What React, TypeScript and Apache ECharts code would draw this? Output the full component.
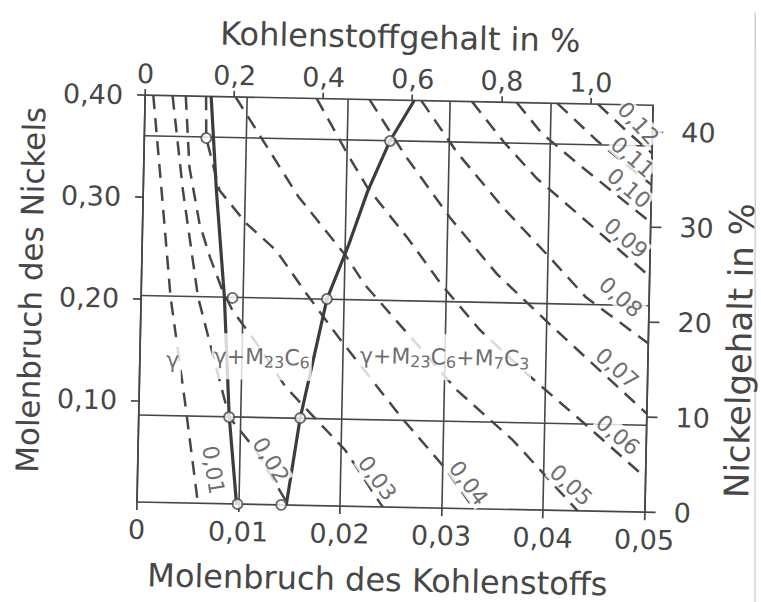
import { useEffect, useRef } from "react";
import * as echarts from "echarts";

const INK = "#474747";
const FONT = "DejaVu Sans";

// Bottom axis: mole fraction of carbon
const carbonMoleTicks = [0, 0.01, 0.02, 0.03, 0.04, 0.05];
const carbonMoleLabels = ["0", "0,01", "0,02", "0,03", "0,04", "0,05"];
// Top axis: carbon content in mass-%
const carbonMassTicks = [0, 0.2, 0.4, 0.6, 0.8, 1.0];
const carbonMassLabels = ["0", "0,2", "0,4", "0,6", "0,8", "1,0"];
const carbonMassMax = 1.14; // mass-% at x = 0,05
// Left axis: mole fraction of nickel
const nickelMoleTicks = [0.1, 0.2, 0.3, 0.4];
const nickelMoleLabels = ["0,10", "0,20", "0,30", "0,40"];
// Right axis: nickel content in mass-%
const nickelMassTicks = [0, 10, 20, 30, 40];
const nickelMassLabels = ["0", "10", "20", "30", "40"];
const nickelMassMax = 42.8; // mass-% at y = 0,40

// Phase boundaries (solid)
const boundaryGamma = [
  [0.0065, 0.4], [0.0072, 0.308], [0.0082, 0.203], [0.0089, 0.087], [0.0098, 0],
];
const boundaryM7C3 = [
  [0.0147, 0], [0.0159, 0.0857], [0.0183, 0.203], [0.0203, 0.256],
  [0.0221, 0.31], [0.0242, 0.36], [0.0265, 0.4],
];
// Measured points on the boundaries
const pointsGamma = [[0.0061, 0.359], [0.009, 0.2024], [0.0089, 0.0853], [0.0099, 0]];
const pointsM7C3 = [[0.0142, 0], [0.0159, 0.0857], [0.0183, 0.2032], [0.0242, 0.3597]];
// Alloy series (horizontal lines)
const alloyLevels = [0.36, 0.203, 0.0855];

// Lines of constant carbon activity (dashed)
const act001 = [[0.0008, 0.4], [0.0018, 0.307], [0.0029, 0.202], [0.0045, 0.101], [0.006, 0]];
const act002 = [[0.0027, 0.4], [0.0039, 0.3075], [0.0056, 0.2026], [0.0089, 0.0853], [0.0116, 0.0534], [0.0149, 0]];
const act003 = [
  [0.004, 0.4], [0.0045, 0.33], [0.0056, 0.275], [0.0067, 0.242], [0.0079, 0.212],
  [0.009, 0.1905], [0.0117, 0.155], [0.0144, 0.116], [0.0204, 0.055], [0.0242, 0],
];
const act004 = [
  [0.006, 0.4], [0.0061, 0.359], [0.0075, 0.308], [0.0102, 0.276], [0.0132, 0.25],
  [0.0162, 0.209], [0.0195, 0.166], [0.0258, 0.089], [0.0302, 0.04], [0.0332, 0],
];
const act005 = [
  [0.0089, 0.4], [0.0153, 0.303], [0.02, 0.247], [0.022, 0.218], [0.0273, 0.16],
  [0.0313, 0.116], [0.0369, 0.068], [0.0434, 0],
];
const act006 = [
  [0.0169, 0.4], [0.0201, 0.345], [0.0221, 0.313], [0.0261, 0.265], [0.0296, 0.219],
  [0.0334, 0.176], [0.0381, 0.134], [0.0443, 0.0825], [0.05, 0.034],
];
const act007 = [[0.0221, 0.4], [0.0257, 0.346], [0.0303, 0.285], [0.035, 0.231], [0.0406, 0.18], [0.05, 0.097]];
const act008 = [[0.0272, 0.4], [0.0308, 0.35], [0.0355, 0.296], [0.0401, 0.249], [0.0438, 0.21], [0.05, 0.166]];
const act009 = [[0.0322, 0.4], [0.0354, 0.361], [0.0387, 0.326], [0.0433, 0.288], [0.05, 0.232]];
const act010 = [[0.0366, 0.4], [0.0391, 0.3705], [0.0425, 0.343], [0.05, 0.285]];
const act011 = [[0.0406, 0.4], [0.0447, 0.363], [0.05, 0.322]];
const act012 = [[0.0446, 0.4], [0.0476, 0.373], [0.05, 0.353]];

const activityNames = ["0,01", "0,02", "0,03", "0,04", "0,05", "0,06", "0,07", "0,08", "0,09", "0,10", "0,11", "0,12"];
const activityLabelAt = [
  [0.00745, 0.0329], [0.0131, 0.0439], [0.0236, 0.0282], [0.0326, 0.0251],
  [0.0427, 0.0251], [0.0472, 0.0752], [0.047, 0.141], [0.0472, 0.2108],
  [0.0476, 0.2689], [0.0478, 0.318], [0.0481, 0.3487], [0.0486, 0.3822],
];

// Phase fields
const fieldNames = ["{t|γ}", "{t|γ+M}{s|23}{t|C}{s|6}", "{t|γ+M}{s|23}{t|C}{s|6}{t|+M}{s|7}{t|C}{s|3}"];
const fieldAt = [[0.00324, 0.1403], [0.012, 0.145], [0.03, 0.1484]];

const labelAngles = [-80, -57, -53, -52, -42, -39, -40, -40, -39, -39, -40, -46];

function lookup(values: number[], labels: string[]) {
  return (v: number) => {
    const i = values.findIndex((t) => Math.abs(t - v) < 1e-9);
    return i >= 0 ? labels[i] : "";
  };
}

function buildOption() {
  const frame = { show: true, onZero: false, lineStyle: { color: INK, width: 1.7 } };
  const tickStyle = { color: INK, width: 1.7 };
  const tickFont = { fontSize: 27, color: INK, fontFamily: FONT };
  const titleFont = { color: INK, fontFamily: FONT };
  const activityLines = [
    act001, act002, act003, act004, act005, act006,
    act007, act008, act009, act010, act011, act012,
  ];

  return {
    animation: false,
    backgroundColor: "#fff",
    textStyle: { fontFamily: FONT },
    grid: { left: 137, top: 95, width: 513, height: 407 },
    xAxis: [
      {
        type: "value",
        position: "bottom",
        min: 0,
        max: 0.05,
        interval: 0.01,
        name: "Molenbruch des Kohlenstoffs",
        nameLocation: "middle",
        nameGap: 57,
        nameTextStyle: { ...titleFont, fontSize: 32, padding: [0, 24, 0, 0] },
        axisLine: frame,
        axisTick: { show: true, length: 8, lineStyle: tickStyle, customValues: carbonMoleTicks },
        axisLabel: {
          ...tickFont,
          margin: 14,
          customValues: carbonMoleTicks,
          formatter: lookup(carbonMoleTicks, carbonMoleLabels),
        },
        splitLine: { show: true, lineStyle: { color: INK, width: 1.6 } },
      },
      {
        type: "value",
        position: "top",
        min: 0,
        max: carbonMassMax,
        name: "Kohlenstoffgehalt in %",
        nameLocation: "middle",
        nameGap: 47,
        nameTextStyle: { ...titleFont, fontSize: 32 },
        axisLine: frame,
        axisTick: { show: true, length: 6, lineStyle: tickStyle, customValues: carbonMassTicks },
        axisLabel: {
          ...tickFont,
          margin: 8,
          customValues: carbonMassTicks,
          formatter: lookup(carbonMassTicks, carbonMassLabels),
        },
        splitLine: { show: false },
      },
    ],
    yAxis: [
      {
        type: "value",
        position: "left",
        min: 0,
        max: 0.4,
        name: "Molenbruch des Nickels",
        nameLocation: "middle",
        nameRotate: 90,
        nameGap: 95,
        nameTextStyle: { ...titleFont, fontSize: 31, padding: [0, 0, 0, 13] },
        axisLine: frame,
        axisTick: { show: true, length: 8, lineStyle: tickStyle, customValues: nickelMoleTicks },
        axisLabel: {
          ...tickFont,
          margin: 22,
          customValues: nickelMoleTicks,
          formatter: lookup(nickelMoleTicks, nickelMoleLabels),
        },
        splitLine: { show: false },
      },
      {
        type: "value",
        position: "right",
        min: 0,
        max: nickelMassMax,
        name: "Nickelgehalt in %",
        nameLocation: "middle",
        nameRotate: 90,
        nameGap: 65,
        nameTextStyle: { ...titleFont, fontSize: 34, padding: [0, 80, 0, 0] },
        axisLine: frame,
        axisTick: { show: true, length: 11, lineStyle: tickStyle, customValues: nickelMassTicks },
        axisLabel: {
          ...tickFont,
          margin: 29,
          customValues: nickelMassTicks,
          formatter: lookup(nickelMassTicks, nickelMassLabels),
        },
        splitLine: { show: false },
      },
    ],
    graphic: [
      {
        type: "line",
        silent: true,
        shape: { x1: 745, y1: -12, x2: 757, y2: 590 },
        style: { stroke: "#c9c9c9", lineWidth: 1.2 },
      },
    ],
    series: [
      ...alloyLevels.map((y) => ({
        type: "line",
        data: [[0, y], [0.05, y]],
        symbol: "none",
        silent: true,
        lineStyle: { color: INK, width: 1.6 },
        z: 2,
      })),
      ...activityLines.map((data) => ({
        type: "line",
        data,
        symbol: "none",
        silent: true,
        lineStyle: { color: INK, width: 2.5, type: [14, 9] },
        z: 3,
      })),
      {
        type: "line",
        data: boundaryGamma,
        symbol: "none",
        silent: true,
        lineStyle: { color: "#3c3c3c", width: 3.2 },
        z: 4,
      },
      {
        type: "line",
        data: boundaryM7C3,
        symbol: "none",
        silent: true,
        lineStyle: { color: "#3c3c3c", width: 3.2 },
        z: 4,
      },
      {
        type: "scatter",
        data: [...pointsGamma, ...pointsM7C3],
        symbol: "circle",
        symbolSize: 10,
        silent: true,
        itemStyle: { color: "#fff", borderColor: INK, borderWidth: 1.8 },
        z: 6,
      },
      {
        type: "scatter",
        silent: true,
        symbolSize: 1,
        itemStyle: { color: "rgba(0,0,0,0)" },
        data: activityNames.map((name, i) => ({
          name,
          value: activityLabelAt[i],
          label: { rotate: labelAngles[i] },
        })),
        label: {
          show: true,
          position: "inside",
          align: "center",
          verticalAlign: "middle",
          formatter: (p: any) => p.name,
          fontSize: 22,
          color: INK,
          fontFamily: FONT,
          backgroundColor: "#fff",
          padding: [0, 1],
        },
        z: 7,
      },
      {
        type: "scatter",
        silent: true,
        symbolSize: 1,
        itemStyle: { color: "rgba(0,0,0,0)" },
        data: fieldNames.map((name, i) => ({ name, value: fieldAt[i] })),
        label: {
          show: true,
          position: "inside",
          align: "center",
          verticalAlign: "middle",
          formatter: (p: any) => p.name,
          backgroundColor: "#fff",
          padding: [10, 2],
          rich: {
            t: { fontSize: 22, color: INK, fontFamily: FONT, lineHeight: 26 },
            s: { fontSize: 16, color: INK, fontFamily: FONT, lineHeight: 18, verticalAlign: "bottom" },
          },
        },
        z: 7,
      },
    ],
  };
}

export default function App() {
  const ref = useRef<HTMLDivElement>(null);
  useEffect(() => {
    const el = ref.current;
    if (!el) return;
    const chart = echarts.init(el, undefined, { renderer: "svg" });
    chart.setOption(buildOption() as any);
    return () => chart.dispose();
  }, []);
  return (
    <div
      ref={ref}
      style={{
        position: "absolute",
        left: 0,
        top: 0,
        width: 761,
        height: 602,
        transform: "rotate(1.15deg)",
        transformOrigin: "137px 502px",
      }}
    />
  );
}
